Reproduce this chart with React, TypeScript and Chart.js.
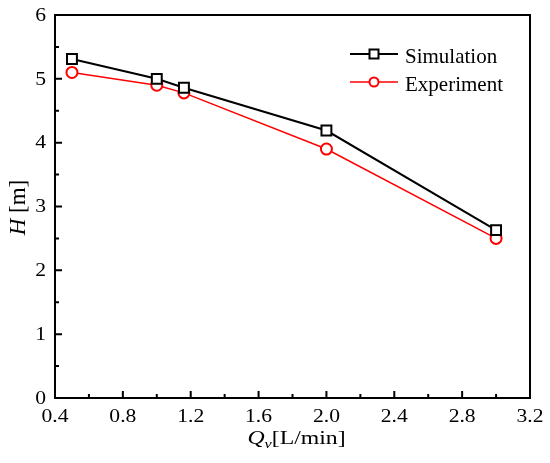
import { useEffect, useRef } from "react";
import { Chart, registerables } from "chart.js";
Chart.register(...registerables);

const flowRates = [0.5, 1.0, 1.16, 2.0, 3.0];
const simulationHead = [5.31, 5.0, 4.86, 4.19, 2.63];
const experimentHead = [5.1, 4.9, 4.78, 3.9, 2.5];
const xTickValues = [0.4, 0.8, 1.2, 1.6, 2.0, 2.4, 2.8, 3.2];
const yTickValues = [0, 1, 2, 3, 4, 5, 6];
const xTickLabels = ["0.4", "0.8", "1.2", "1.6", "2.0", "2.4", "2.8", "3.2"];
const yTickLabels = ["0", "1", "2", "3", "4", "5", "6"];
const seriesNames = ["Simulation", "Experiment"];
const seriesColors = ["#000000", "#ff0000"];

const FONT = "'Liberation Serif', 'Times New Roman', serif";

function stretchText(ctx: any, text: string, x: number, y: number, align: string, sx: number) {
  ctx.save();
  ctx.translate(x, y);
  ctx.scale(sx, 1);
  ctx.textAlign = align;
  ctx.fillText(text, 0, 0);
  ctx.restore();
}

const framePlugin = {
  id: "frameAndTitles",
  afterDraw(chart: any) {
    const { ctx, chartArea: a, scales } = chart;
    const xs = scales.x;
    const ys = scales.y;
    ctx.save();
    ctx.strokeStyle = "#000";
    ctx.lineWidth = 2;
    ctx.strokeRect(a.left, a.top, a.right - a.left, a.bottom - a.top);
    // inward ticks
    ctx.beginPath();
    xTickValues.forEach((v, i) => {
      const px = xs.getPixelForValue(v);
      ctx.moveTo(px, a.bottom);
      ctx.lineTo(px, a.bottom - 7);
      if (i < xTickValues.length - 1) {
        const m = xs.getPixelForValue((v + xTickValues[i + 1]) / 2);
        ctx.moveTo(m, a.bottom);
        ctx.lineTo(m, a.bottom - 4);
      }
    });
    yTickValues.forEach((v, i) => {
      const py = ys.getPixelForValue(v);
      ctx.moveTo(a.left, py);
      ctx.lineTo(a.left + 7, py);
      if (i < yTickValues.length - 1) {
        const m = ys.getPixelForValue((v + yTickValues[i + 1]) / 2);
        ctx.moveTo(a.left, m);
        ctx.lineTo(a.left + 4, m);
      }
    });
    ctx.stroke();

    // tick labels
    ctx.fillStyle = "#000";
    ctx.font = `18px ${FONT}`;
    ctx.textBaseline = "middle";
    xTickValues.forEach((v, i) => {
      stretchText(ctx, xTickLabels[i], xs.getPixelForValue(v), a.bottom + 19, "center", 1.2);
    });
    yTickValues.forEach((v, i) => {
      stretchText(ctx, yTickLabels[i], a.left - 9, ys.getPixelForValue(v) + 1, "right", 1.2);
    });

    // x title: Q_v[L/min]
    ctx.textBaseline = "alphabetic";
    ctx.textAlign = "left";
    const sx = 1.25;
    const big = `italic 19px ${FONT}`;
    const sub = `italic 13px ${FONT}`;
    const norm = `19px ${FONT}`;
    ctx.font = big;
    const wQ = ctx.measureText("Q").width;
    ctx.font = sub;
    const wv = ctx.measureText("v").width;
    ctx.font = norm;
    const wr = ctx.measureText("[L/min]").width;
    const total = (wQ + wv + wr) * sx;
    ctx.save();
    ctx.translate((a.left + a.right) / 2 - total / 2 + 4, a.bottom + 46);
    ctx.scale(sx, 1);
    ctx.font = big;
    ctx.fillText("Q", 0, 0);
    ctx.font = sub;
    ctx.fillText("v", wQ, 4);
    ctx.font = norm;
    ctx.fillText("[L/min]", wQ + wv, 0);
    ctx.restore();

    // y title: H [m]
    ctx.save();
    ctx.translate(a.left - 36, (a.top + a.bottom) / 2 + 1);
    ctx.rotate(-Math.PI / 2);
    const bigY = `italic 23px ${FONT}`;
    const normY = `23px ${FONT}`;
    ctx.font = bigY;
    const wH = ctx.measureText("H").width;
    ctx.font = normY;
    const wm = ctx.measureText(" [m]").width;
    const hx = -(wH + wm) / 2;
    ctx.textBaseline = "middle";
    ctx.font = bigY;
    ctx.fillText("H", hx, 0);
    ctx.font = normY;
    ctx.fillText(" [m]", hx + wH, 0);
    ctx.restore();

    // legend
    const lx0 = a.right - 180;
    const lx1 = lx0 + 48;
    const lmid = (lx0 + lx1) / 2;
    seriesNames.forEach((name, i) => {
      const y = a.top + 39 + i * 28;
      ctx.strokeStyle = seriesColors[i];
      ctx.lineWidth = i === 0 ? 2 : 1.5;
      ctx.beginPath();
      ctx.moveTo(lx0, y);
      ctx.lineTo(lx1, y);
      ctx.stroke();
      ctx.lineWidth = 2;
      ctx.fillStyle = "#fff";
      if (i === 0) {
        ctx.fillRect(lmid - 4.5, y - 4.5, 9, 9);
        ctx.strokeRect(lmid - 4.5, y - 4.5, 9, 9);
      } else {
        ctx.beginPath();
        ctx.arc(lmid, y, 4.5, 0, Math.PI * 2);
        ctx.fill();
        ctx.stroke();
      }
      ctx.fillStyle = "#000";
      ctx.font = `21px ${FONT}`;
      ctx.textBaseline = "alphabetic";
      ctx.textAlign = "left";
      ctx.fillText(name, lx1 + 7, y + 9);
    });
    ctx.restore();
  },
};

export default function App() {
  const ref = useRef<HTMLCanvasElement | null>(null);
  useEffect(() => {
    document.body.style.margin = "0";
    const canvas = ref.current;
    if (!canvas) return;
    const chart = new Chart(canvas, {
      type: "line",
      data: {
        datasets: [
          {
            label: seriesNames[0],
            data: flowRates.map((x, i) => ({ x, y: simulationHead[i] })),
            borderColor: seriesColors[0],
            borderWidth: 2,
            pointStyle: "rect",
            pointRadius: 7,
            pointBorderWidth: 2,
            pointBackgroundColor: "#fff",
            pointBorderColor: seriesColors[0],
            tension: 0,
          },
          {
            label: seriesNames[1],
            data: flowRates.map((x, i) => ({ x, y: experimentHead[i] })),
            borderColor: seriesColors[1],
            borderWidth: 1.5,
            pointStyle: "circle",
            pointRadius: 5.5,
            pointBorderWidth: 2,
            pointBackgroundColor: "#fff",
            pointBorderColor: seriesColors[1],
            tension: 0,
          },
        ],
      },
      options: {
        animation: false,
        responsive: false,
        devicePixelRatio: 1,
        layout: { padding: { left: 0, top: 15, right: 20, bottom: 0 } },
        plugins: { legend: { display: false }, tooltip: { enabled: false } },
        scales: {
          x: {
            type: "linear",
            min: 0.4,
            max: 3.2,
            afterBuildTicks: (s: any) => {
              s.ticks = xTickValues.map((v) => ({ value: v }));
            },
            afterFit: (s: any) => {
              s.height = 65;
            },
            grid: { display: false, drawTicks: false },
            border: { display: false },
            ticks: { display: false },
          },
          y: {
            min: 0,
            max: 6,
            afterBuildTicks: (s: any) => {
              s.ticks = yTickValues.map((v) => ({ value: v }));
            },
            afterFit: (s: any) => {
              s.width = 55;
            },
            grid: { display: false, drawTicks: false },
            border: { display: false },
            ticks: { display: false },
          },
        },
      },
      plugins: [framePlugin],
    });
    return () => chart.destroy();
  }, []);
  return <canvas ref={ref} width={550} height={463} style={{ display: "block" }} />;
}
